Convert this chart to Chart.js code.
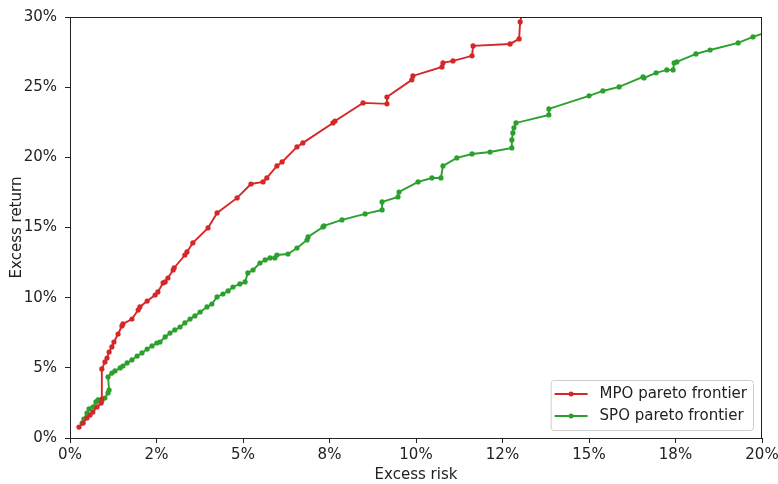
<!DOCTYPE html>
<html>
<head>
<meta charset="utf-8">
<style>
	html, body { margin: 0; padding: 0; background: #fff; }
	#wrap { width: 778px; height: 484px; position: relative; }
</style>
</head>
<body>
<div id="wrap"><canvas id="frontier"></canvas></div>

<script src="https://cdn.jsdelivr.net/npm/chart.js@4/dist/chart.umd.min.js"></script>
<script type="text/javascript">
	// Данные (в процентах)
	var mpoRisk = [0.26, 0.38, 0.49, 0.58, 0.66, 0.78, 0.90, 0.92, 0.92, 1.01, 1.07, 1.13, 1.21, 1.27, 1.39, 1.50, 1.53, 1.79, 1.97, 2.02,
		2.23, 2.46, 2.54, 2.69, 2.75, 2.83, 2.98, 3.01, 3.32, 3.38, 3.55, 3.99, 4.25, 4.83, 5.23, 5.58, 5.69, 5.98, 6.13, 6.56,
		6.73, 7.60, 7.66, 8.47, 9.16, 9.16, 9.88, 9.91, 10.75, 10.78, 11.07, 11.62, 11.65, 12.72, 12.98, 13.01, 13.08];
	var mpoReturn = [0.78, 1.07, 1.43, 1.64, 1.85, 2.21, 2.49, 2.78, 4.92, 5.42, 5.70, 6.13, 6.49, 6.84, 7.41, 7.98, 8.13, 8.48, 9.12, 9.34,
		9.76, 10.19, 10.41, 11.05, 11.12, 11.40, 11.97, 12.12, 13.04, 13.26, 13.90, 14.97, 16.04, 17.11, 18.10, 18.25, 18.53, 19.39, 19.67, 20.74,
		21.03, 22.45, 22.59, 23.88, 23.81, 24.30, 25.52, 25.80, 26.44, 26.73, 26.87, 27.23, 27.94, 28.08, 28.44, 29.65, 30.4];

	var spoRisk = [0.35, 0.40, 0.49, 0.55, 0.66, 0.75, 0.81, 0.92, 1.01, 1.10, 1.13, 1.10, 1.21, 1.30, 1.45, 1.53, 1.65, 1.79, 1.94, 2.08,
		2.23, 2.37, 2.51, 2.60, 2.75, 2.89, 3.03, 3.18, 3.32, 3.47, 3.61, 3.76, 3.96, 4.10, 4.25, 4.42, 4.57, 4.71, 4.91, 5.06,
		5.14, 5.29, 5.49, 5.64, 5.78, 5.92, 5.98, 6.30, 6.56, 6.85, 6.88, 7.31, 7.34, 7.86, 8.53, 9.02, 9.02, 9.48, 9.51, 10.06,
		10.46, 10.72, 10.78, 11.18, 11.62, 12.14, 12.77, 12.77, 12.80, 12.83, 12.89, 13.84, 13.84, 15.00, 15.40, 15.87, 16.56, 16.59, 16.94, 17.25,
		17.43, 17.46, 17.54, 18.09, 18.50, 19.31, 19.74, 20.3];
	var spoReturn = [1.07, 1.35, 1.78, 2.07, 2.21, 2.57, 2.71, 2.64, 2.85, 3.21, 3.42, 4.35, 4.63, 4.78, 4.99, 5.13, 5.35, 5.56, 5.84, 6.06,
		6.34, 6.56, 6.77, 6.84, 7.20, 7.48, 7.70, 7.91, 8.20, 8.48, 8.70, 8.98, 9.34, 9.55, 10.05, 10.26, 10.48, 10.76, 10.98, 11.12,
		11.76, 11.97, 12.47, 12.69, 12.83, 12.83, 13.04, 13.11, 13.54, 14.11, 14.33, 15.04, 15.11, 15.54, 15.97, 16.25, 16.82, 17.18, 17.53, 18.25,
		18.53, 18.53, 19.39, 19.96, 20.24, 20.38, 20.67, 21.24, 21.74, 22.10, 22.45, 23.02, 23.45, 24.38, 24.73, 25.02, 25.73, 25.66, 26.02, 26.23,
		26.23, 26.73, 26.80, 27.37, 27.65, 28.15, 28.58, 29.05];

	var xTickValues = [0, 2.5, 5, 7.5, 10, 12.5, 15, 17.5, 20];
	var xTickLabels = ["0%", "2%", "5%", "8%", "10%", "12%", "15%", "18%", "20%"];
	var yTickValues = [0, 5, 10, 15, 20, 25, 30];
	var yTickLabels = ["0%", "5%", "10%", "15%", "20%", "25%", "30%"];

	var seriesLabels = ["MPO pareto frontier", "SPO pareto frontier"];
	var seriesColors = ["#d62728", "#2ca02c"];

	function toPoints(xs, ys){
		var pts = [];
		for(var i = 0; i < xs.length; i++) pts.push({x: xs[i], y: ys[i]});
		return pts;
	}

	Chart.defaults.font.family = "'DejaVu Sans', sans-serif";
	Chart.defaults.font.size = 15;
	Chart.defaults.color = "#222";

	// Рамка вокруг области графика + легенда в правом нижнем углу
	var framePlugin = {
		id: "frame",
		afterDatasetsDraw: function(chart){
			var a = chart.chartArea, ctx = chart.ctx;
			ctx.save();
			ctx.strokeStyle = "#222";
			ctx.lineWidth = 1;
			ctx.strokeRect(a.left + 0.5, a.top + 0.5, a.right - a.left - 1, a.bottom - a.top);
			ctx.restore();
		},
		afterDraw: function(chart){
			var a = chart.chartArea, ctx = chart.ctx;
			ctx.save();
			ctx.font = "15px 'DejaVu Sans', sans-serif";
			var tw = 0;
			chart.data.datasets.forEach(function(ds){ tw = Math.max(tw, ctx.measureText(ds.label).width); });
			var w = 4 + 33 + 12 + tw + 6, h = 50;
			var x0 = a.right - 9 - w, y0 = a.bottom - 8 - h;
			ctx.beginPath();
			ctx.roundRect(x0 + 0.5, y0 + 0.5, w, h, 3);
			ctx.fillStyle = "rgba(255,255,255,0.85)";
			ctx.fill();
			ctx.strokeStyle = "#cccccc";
			ctx.lineWidth = 1;
			ctx.stroke();
			chart.data.datasets.forEach(function(ds, i){
				var yy = y0 + 14 + i * 22;
				ctx.strokeStyle = ds.borderColor;
				ctx.lineWidth = 2;
				ctx.beginPath();
				ctx.moveTo(x0 + 4, yy);
				ctx.lineTo(x0 + 37, yy);
				ctx.stroke();
				ctx.fillStyle = ds.borderColor;
				ctx.beginPath();
				ctx.arc(x0 + 20.5, yy, 2.5, 0, Math.PI * 2);
				ctx.fill();
				ctx.fillStyle = "#222";
				ctx.textBaseline = "middle";
				ctx.fillText(ds.label, x0 + 49, yy);
			});
			ctx.restore();
		}
	};

	var chart = new Chart(document.getElementById("frontier"), {
		type: "line",
		data: {
			datasets: [{
				label: seriesLabels[0],
				data: toPoints(mpoRisk, mpoReturn),
				borderColor: seriesColors[0],
				backgroundColor: seriesColors[0],
				borderWidth: 1.9,
				pointRadius: 2.6,
				pointBorderWidth: 0,
				tension: 0
			}, {
				label: seriesLabels[1],
				data: toPoints(spoRisk, spoReturn),
				borderColor: seriesColors[1],
				backgroundColor: seriesColors[1],
				borderWidth: 1.9,
				pointRadius: 2.6,
				pointBorderWidth: 0,
				tension: 0
			}]
		},
		options: {
			responsive: true,
			maintainAspectRatio: false,
			animation: false,
			layout: { padding: { left: 0, right: 16, top: 17, bottom: 0 } },
			plugins: {
				legend: { display: false },
				tooltip: { enabled: false }
			},
			scales: {
				x: {
					type: "linear",
					min: 0,
					max: 20,
					afterFit: function(s){ s.height = 46; s.paddingLeft = 0; s.paddingRight = 0; },
					afterBuildTicks: function(s){ s.ticks = xTickValues.map(function(v){ return {value: v}; }); },
					ticks: {
						padding: 3,
						maxRotation: 0,
						callback: function(v, i){ return xTickLabels[i]; }
					},
					grid: { drawOnChartArea: false, drawTicks: true, tickLength: 5, tickColor: "#222" },
					border: { display: true, color: "#222" },
					title: { display: true, text: "Excess risk", padding: { top: 0, bottom: 0 } }
				},
				y: {
					min: 0,
					max: 30,
					afterFit: function(s){ s.width = 70; },
					afterBuildTicks: function(s){ s.ticks = yTickValues.map(function(v){ return {value: v}; }); },
					ticks: {
						padding: 8,
						callback: function(v, i){ return yTickLabels[i]; }
					},
					grid: { drawOnChartArea: false, drawTicks: true, tickLength: 5, tickColor: "#222" },
					border: { display: true, color: "#222" },
					title: { display: true, text: "Excess return", padding: { top: 8, bottom: 0 } }
				}
			}
		},
		plugins: [framePlugin]
	});
</script>
</body>
</html>
